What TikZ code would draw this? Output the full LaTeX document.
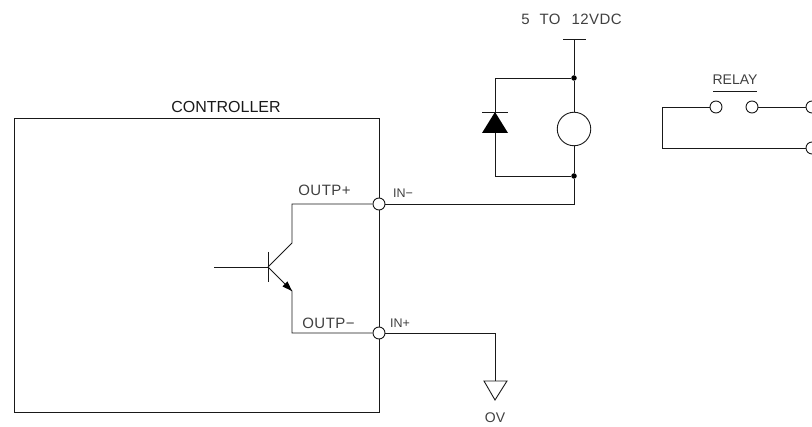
\documentclass[tikz,border=0pt]{standalone}
\usepackage{fontspec}
\setmainfont{Liberation Sans}
\newfontfamily\cad[LetterSpace=3]{Liberation Sans}
\usetikzlibrary{arrows.meta}
\tikzset{
  wire/.style={line width=0.9pt,draw=black!90},
  term/.style={circle,draw=black!90,line width=0.9pt,fill=white,minimum size=12pt,inner sep=0pt},
  coilsym/.style={circle,draw=black!90,line width=0.9pt,fill=white,minimum size=33.5pt,inner sep=0pt},
  junct/.style={circle,fill=black,minimum size=5.5pt,inner sep=0pt},
  lbl/.style={inner sep=0pt,text=black!75,font=\cad\fontsize{15}{17}\selectfont},
  smalllbl/.style={inner sep=0pt,text=black!75,font=\fontsize{12.5}{14}\selectfont},
}
\begin{document}
\begin{tikzpicture}[x=1pt,y=-1pt]
\useasboundingbox (0,0) rectangle (812,427);
\clip (0,0) rectangle (812,427);
% controller box
\node[draw=black!90,line width=0.9pt,minimum width=365pt,minimum height=294pt,inner sep=0pt,anchor=north west] (box) at (14,118) {};
\node[inner sep=0pt,font=\fontsize{16}{18}\selectfont,text=black!90] (ctl) at (226,107) {CONTROLLER};
% coordinates
\coordinate (c1) at (292,204);
\coordinate (c2) at (292,243);
\coordinate (bj) at (268,267);
\coordinate (bin) at (214,267);
\coordinate (bt) at (268,252);
\coordinate (bb) at (268,282);
\coordinate (e1) at (292,291);
\coordinate (e2) at (292,333);
\coordinate (r1) at (574,204);
\coordinate (vtop) at (574,39);
\coordinate (vl) at (563,39);
\coordinate (vr) at (586,39);
\coordinate (dt) at (495,78);
\coordinate (db) at (495,176);
\coordinate (g1) at (495,333);
\coordinate (g2) at (495,381);
\coordinate (rl1) at (662,107);
\coordinate (rl2) at (662,148);
\coordinate (ul) at (713,91);
\coordinate (ur) at (757,91);
% terminals
\node[term] (t1) at (379,204) {};
\node[term] (t2) at (379,333) {};
\node[junct] (j1) at (574,78) {};
\node[junct] (j2) at (574,176) {};
\node[coilsym] (coil) at (574,129) {};
\node[term] (k1) at (716,107) {};
\node[term] (k2) at (752,107) {};
\node[term] (k3) at (812,107) {};
\node[term] (k4) at (812,148) {};
% transistor
\draw[wire] (t1) -- (c1) -- (c2) -- (bj);
\draw[wire] (bin) -- (bj);
\draw[wire] (bt) -- (bb);
\draw[wire] (bj) -- (e1) -- (e2) -- (t2);
\fill[black] (292,291) -- (282.5,286.5) -- (287.5,281.5) -- cycle;
% output wires
\draw[wire] (t1) -- (r1) -- (j2);
\draw[wire] (j2) -- (coil);
\draw[wire] (coil) -- (j1);
\draw[wire] (j1) -- (vtop);
\draw[wire] (vl) -- (vr);
\draw[wire] (j1) -- (dt) -- (db) -- (j2);
% diode
\fill[black] (495,112) -- (508,133) -- (482,133) -- cycle;
\draw[wire] (482,112) -- (508,112);
% ground
\draw[wire] (t2) -- (g1) -- (g2);
\draw[wire] (484,381) -- (507,381) -- (495,400) -- cycle;
% relay
\draw[wire] (k1) -- (rl1) -- (rl2) -- (k4);
\draw[wire] (k2) -- (k3);
\draw[line width=0.8pt,black!90] (ul) -- (ur);
% labels
\node[lbl] (l5) at (571.5,19) {5\hspace{10pt}TO\hspace{11pt}12VDC};
\node[smalllbl,font=\fontsize{14}{16}\selectfont] (lr) at (735,80) {RELAY};
\node[lbl] (lo1) at (324.5,190) {OUTP+};
\node[lbl] (lo2) at (328.5,323) {OUTP−};
\node[smalllbl] (li1) at (403,193) {IN−};
\node[smalllbl] (li2) at (400,323) {IN+};
\node[smalllbl,font=\fontsize{14}{16}\selectfont] (lov) at (495,418) {OV};
\end{tikzpicture}
\end{document}
